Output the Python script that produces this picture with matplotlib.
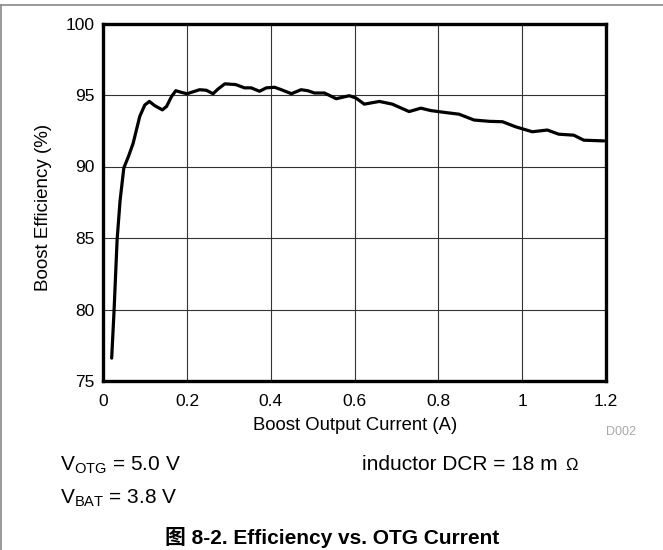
import matplotlib
matplotlib.use("Agg")
import matplotlib.pyplot as plt
from matplotlib.lines import Line2D

plt.rcParams["font.family"] = ["Liberation Sans", "Noto Sans CJK SC", "DejaVu Sans"]
plt.rcParams["mathtext.fontset"] = "custom"
plt.rcParams["mathtext.rm"] = "Liberation Sans"

# boost output current (A) vs efficiency (%)
current = [0.020, 0.0255, 0.033, 0.040, 0.049, 0.060, 0.071, 0.087, 0.099, 0.110,
           0.123, 0.141, 0.151, 0.163, 0.173, 0.187, 0.200, 0.230, 0.246, 0.262,
           0.274, 0.290, 0.316, 0.337, 0.353, 0.373, 0.389, 0.409, 0.425, 0.449,
           0.472, 0.488, 0.504, 0.528, 0.556, 0.587, 0.603, 0.623, 0.659, 0.690,
           0.730, 0.758, 0.782, 0.818, 0.849, 0.885, 0.921, 0.953, 0.984, 1.024,
           1.060, 1.087, 1.123, 1.147, 1.195]
efficiency = [76.6, 79.8, 84.9, 87.6, 89.9, 90.7, 91.6, 93.5, 94.3, 94.55,
              94.25, 93.96, 94.2, 94.9, 95.3, 95.18, 95.09, 95.37, 95.33, 95.09,
              95.42, 95.78, 95.73, 95.5, 95.5, 95.26, 95.5, 95.54, 95.37, 95.09,
              95.37, 95.3, 95.14, 95.14, 94.74, 94.95, 94.79, 94.36, 94.55, 94.36,
              93.84, 94.08, 93.91, 93.77, 93.66, 93.25, 93.16, 93.13, 92.78, 92.43,
              92.55, 92.26, 92.19, 91.84, 91.79]
xticks = [0, 0.2, 0.4, 0.6, 0.8, 1.0, 1.2]
xticklabels = ["0", "0.2", "0.4", "0.6", "0.8", "1", "1.2"]
yticks = [75, 80, 85, 90, 95, 100]
yticklabels = ["75", "80", "85", "90", "95", "100"]

W, H = 663, 550
fx = lambda px: px / W
fy = lambda py: 1 - py / H

fig = plt.figure(figsize=(W / 100, H / 100), dpi=100)
fig.set_facecolor("white")
ax = fig.add_axes([fx(103.3), fy(381), fx(606) - fx(103.3), fy(23.5) - fy(381)])

ax.plot(current, efficiency, color="black", lw=2.3, solid_capstyle="round", zorder=3)
ax.set_xlim(0, 1.2); ax.set_ylim(75, 100)
ax.set_xticks(xticks); ax.set_xticklabels(xticklabels)
ax.set_yticks(yticks); ax.set_yticklabels(yticklabels)
ax.grid(True, color="#333333", lw=0.8)
ax.tick_params(axis="both", length=0, labelsize=12.5, colors="black")
ax.tick_params(axis="x", pad=9.5)
ax.tick_params(axis="y", pad=6)
for s in ax.spines.values():
    s.set_linewidth(2.4); s.set_color("black")

# axis titles and notes
fig.text(fx(355.5), fy(430), "Boost Output Current (A)", ha="center", va="baseline", fontsize=13.3)
fig.text(fx(43), fy(207), "Boost Efficiency (%)", ha="center", va="center", rotation=90, fontsize=13.5)
fig.text(fx(621), fy(432), "D002", ha="center", va="center", fontsize=9, color="#a8a8a8")
fig.text(fx(60), fy(470), r"V$_{\mathregular{OTG}}$ = 5.0 V", ha="left", va="baseline", fontsize=15)
fig.text(fx(60), fy(503), r"V$_{\mathregular{BAT}}$ = 3.8 V", ha="left", va="baseline", fontsize=15)
fig.text(fx(362), fy(470), "inductor DCR = 18 m", ha="left", va="baseline", fontsize=15)
fig.text(fx(578), fy(470), "Ω", ha="right", va="baseline", fontsize=12)
fig.text(fx(332), fy(537), "图 8-2. Efficiency vs. OTG Current", ha="center", va="center",
         fontsize=15, fontweight="bold")

# page frame (left and top rules)
fig.add_artist(Line2D([fx(1), fx(1)], [0, fy(5)], color="#888888", lw=1.2))
fig.add_artist(Line2D([fx(1), 1], [fy(5), fy(5)], color="#888888", lw=1.2))

fig.savefig("out.png", dpi=100, facecolor="white")
